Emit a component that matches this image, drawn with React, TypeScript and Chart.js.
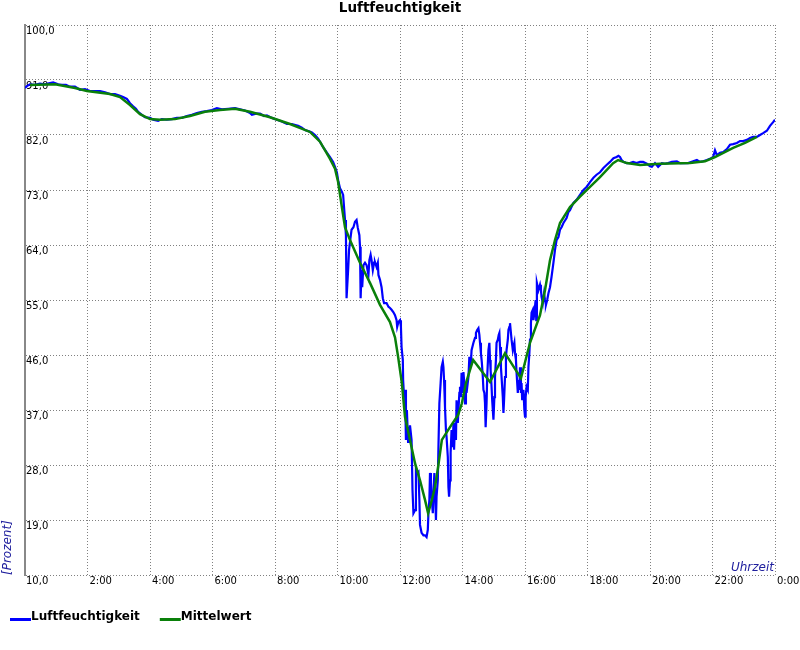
import React, { useEffect, useRef } from 'react';
import { Chart, registerables } from 'chart.js';

Chart.register(...registerables);

const TITLE = 'Luftfeuchtigkeit';
const SERIES_LABELS = ['Luftfeuchtigkeit', 'Mittelwert'];
const SERIES_COLORS = ['#0000ff', '#0a800a'];
const Y_AXIS_TITLE = '[Prozent]';
const X_AXIS_TITLE = 'Uhrzeit';
const yTickValues = [10, 19, 28, 37, 46, 55, 64, 73, 82, 91, 100];
const xTickHours = [0, 2, 4, 6, 8, 10, 12, 14, 16, 18, 20, 22, 24];

// [Uhrzeit in Stunden, Luftfeuchtigkeit in %]
const humidity: [number, number][] = [
  [0.00, 89.7], [0.06, 90.0], [0.16, 90.3], [0.32, 90.2], [0.48, 90.4], [0.64, 90.3], [0.80, 90.5], [0.90, 90.6], [1.06, 90.3], [1.18, 90.2],
  [1.31, 90.2], [1.44, 89.9], [1.60, 89.9], [1.76, 89.4], [1.92, 89.5], [2.08, 89.2], [2.24, 89.2], [2.40, 89.2], [2.56, 89.0], [2.72, 88.7],
  [2.88, 88.7], [3.04, 88.4], [3.14, 88.2], [3.26, 87.9], [3.36, 87.2], [3.46, 86.7], [3.55, 86.3], [3.62, 85.8], [3.74, 85.3], [3.84, 84.9],
  [4.00, 84.8], [4.10, 84.5], [4.26, 84.3], [4.38, 84.6], [4.54, 84.5], [4.70, 84.6], [4.86, 84.8], [5.02, 84.8], [5.18, 85.1], [5.34, 85.3],
  [5.50, 85.6], [5.66, 85.8], [5.82, 85.9], [5.98, 86.1], [6.14, 86.4], [6.30, 86.2], [6.50, 86.3], [6.72, 86.4], [6.88, 86.2], [7.04, 86.0],
  [7.20, 85.6], [7.26, 85.3], [7.39, 85.5], [7.52, 85.5], [7.65, 85.1], [7.74, 85.2], [7.90, 84.8], [8.06, 84.5], [8.22, 84.2], [8.38, 83.8],
  [8.54, 83.8], [8.74, 83.5], [8.86, 83.2], [8.96, 82.8], [9.09, 82.6], [9.18, 82.4], [9.28, 82.0], [9.38, 81.4], [9.44, 80.9], [9.54, 80.0],
  [9.66, 79.1], [9.76, 78.4], [9.86, 77.6], [9.92, 76.8], [9.98, 75.9], [10.02, 74.6], [10.08, 73.3], [10.14, 72.7], [10.18, 72.2],
  [10.24, 68.1], [10.27, 65.6], [10.29, 55.3], [10.34, 59.9], [10.37, 63.2], [10.40, 64.5], [10.45, 66.5], [10.51, 66.9], [10.56, 67.8], [10.61, 68.1],
  [10.65, 66.8], [10.70, 65.6], [10.72, 63.7], [10.74, 55.3], [10.77, 59.9], [10.79, 57.1], [10.83, 60.7], [10.88, 61.1], [10.93, 60.7], [10.99, 59.1],
  [11.02, 61.5], [11.06, 62.4], [11.09, 61.5], [11.13, 59.9], [11.17, 61.1], [11.20, 61.2], [11.25, 60.4], [11.29, 61.1], [11.31, 59.1], [11.36, 58.3],
  [11.41, 57.1], [11.45, 55.3], [11.49, 54.5], [11.57, 54.5], [11.63, 53.9], [11.68, 53.7], [11.73, 53.4], [11.79, 53.0], [11.84, 52.5], [11.89, 51.7],
  [11.91, 50.6], [11.95, 51.4], [12.00, 51.7], [12.03, 50.6], [12.05, 47.3], [12.09, 45.2], [12.10, 41.9], [12.13, 39.1], [12.16, 40.3], [12.19, 32.1],
  [12.22, 37.0], [12.26, 31.6], [12.29, 34.2], [12.30, 31.6], [12.32, 34.5], [12.37, 32.1], [12.40, 23.9], [12.43, 20.1], [12.48, 20.6], [12.51, 27.2],
  [12.55, 26.7], [12.59, 26.9], [12.62, 22.3], [12.64, 18.2], [12.69, 16.9], [12.75, 16.5], [12.80, 16.5], [12.85, 16.2], [12.89, 17.4], [12.91, 20.1],
  [12.94, 22.3], [12.96, 26.7], [12.99, 25.1], [13.01, 22.8], [13.05, 20.1], [13.07, 23.4], [13.10, 26.7], [13.12, 23.9], [13.15, 19.0], [13.17, 22.8],
  [13.21, 25.5], [13.23, 30.9], [13.26, 38.1], [13.30, 41.4], [13.33, 44.0], [13.37, 44.9], [13.39, 44.0], [13.41, 41.9], [13.44, 37.5], [13.47, 33.7],
  [13.49, 32.6], [13.53, 29.3], [13.55, 24.4], [13.57, 22.8], [13.60, 25.5], [13.62, 30.0], [13.65, 33.7], [13.69, 30.9], [13.71, 34.9], [13.73, 30.5],
  [13.76, 34.9], [13.79, 32.1], [13.81, 38.6], [13.85, 34.9], [13.87, 37.0], [13.90, 39.8], [13.92, 40.8], [13.95, 39.1], [13.97, 43.1], [14.01, 39.8],
  [14.03, 43.2], [14.05, 41.9], [14.08, 38.1], [14.11, 41.4], [14.13, 39.8], [14.19, 42.4], [14.22, 45.7], [14.26, 44.0], [14.29, 46.8], [14.35, 48.0],
  [14.40, 48.8], [14.43, 49.6], [14.47, 50.1], [14.51, 50.4], [14.54, 49.3], [14.56, 48.0], [14.59, 46.3], [14.62, 44.7], [14.65, 42.4], [14.67, 40.3],
  [14.70, 39.8], [14.72, 38.1], [14.74, 34.2], [14.77, 38.1], [14.79, 42.4], [14.83, 46.8], [14.86, 48.0], [14.88, 45.2], [14.90, 43.5], [14.93, 40.8],
  [14.95, 38.6], [14.99, 35.4], [15.02, 39.1], [15.04, 42.4], [15.07, 45.2], [15.09, 48.0], [15.13, 48.5], [15.16, 49.3], [15.18, 49.6], [15.20, 47.3],
  [15.23, 44.0], [15.25, 42.4], [15.29, 39.1], [15.31, 36.5], [15.33, 38.6], [15.36, 42.4], [15.39, 45.7], [15.41, 46.8], [15.45, 48.5], [15.47, 50.1],
  [15.50, 50.6], [15.52, 51.2], [15.55, 49.6], [15.57, 48.5], [15.61, 46.8], [15.63, 47.3], [15.66, 48.0], [15.68, 46.3], [15.71, 45.2], [15.73, 43.1],
  [15.77, 39.8], [15.79, 41.9], [15.82, 40.3], [15.84, 44.0], [15.87, 39.8], [15.89, 41.4], [15.91, 38.6], [15.95, 40.3], [15.98, 37.0], [16.00, 35.9],
  [16.02, 39.1], [16.05, 40.8], [16.09, 40.3], [16.11, 44.0], [16.14, 46.3], [16.16, 48.5], [16.19, 51.2], [16.21, 52.9], [16.25, 53.4], [16.27, 51.7],
  [16.30, 52.9], [16.34, 55.0], [16.36, 51.7], [16.38, 57.8], [16.43, 56.6], [16.48, 57.5], [16.51, 56.6], [16.53, 55.5], [16.57, 54.5], [16.61, 56.1],
  [16.64, 55.0], [16.67, 54.2], [16.71, 55.0], [16.75, 56.1], [16.80, 57.1], [16.85, 58.8], [16.91, 61.1], [16.96, 63.2], [17.01, 64.8], [17.07, 65.3],
  [17.12, 66.5], [17.17, 66.9], [17.23, 67.6], [17.33, 68.4], [17.39, 69.4], [17.44, 69.7], [17.55, 70.9], [17.65, 71.4], [17.76, 72.2], [17.87, 73.0],
  [17.97, 73.5], [18.08, 74.3], [18.19, 75.0], [18.29, 75.5], [18.40, 75.9], [18.51, 76.6], [18.61, 77.1], [18.72, 77.6], [18.83, 78.2], [18.93, 78.4],
  [18.99, 78.6], [19.04, 78.4], [19.09, 77.9], [19.15, 77.6], [19.25, 77.4], [19.36, 77.4], [19.46, 77.6], [19.57, 77.4], [19.68, 77.6], [19.78, 77.6],
  [19.90, 77.3], [20.00, 76.9], [20.06, 76.8], [20.16, 77.4], [20.26, 76.8], [20.38, 77.4], [20.48, 77.3], [20.58, 77.4], [20.70, 77.6], [20.86, 77.7],
  [20.96, 77.4], [21.06, 77.4], [21.22, 77.4], [21.38, 77.7], [21.50, 77.9], [21.60, 77.6], [21.70, 77.7], [21.82, 77.9], [21.92, 78.1], [22.02, 78.4],
  [22.08, 79.5], [22.14, 78.7], [22.24, 79.1], [22.34, 79.2], [22.46, 79.7], [22.56, 80.4], [22.66, 80.5], [22.78, 80.7], [22.88, 81.0], [22.98, 81.0],
  [23.10, 81.2], [23.20, 81.5], [23.30, 81.7], [23.42, 81.7], [23.52, 82.0], [23.62, 82.3], [23.74, 82.7], [23.84, 83.5], [23.94, 84.1], [24.00, 84.5],
];

// [Uhrzeit in Stunden, Mittelwert in %]
const meanValues: [number, number][] = [
  [0.16, 90.2], [0.96, 90.3], [1.60, 89.7], [1.98, 89.2], [2.72, 88.7], [3.04, 88.2], [3.36, 86.9], [3.68, 85.4], [4.00, 84.6], [4.32, 84.5],
  [4.80, 84.6], [5.28, 85.1], [5.76, 85.8], [6.24, 86.1], [6.72, 86.3], [7.20, 85.8], [7.84, 84.9], [8.48, 83.8], [9.12, 82.5], [9.44, 80.9],
  [9.76, 78.1], [9.92, 76.5], [10.02, 74.3], [10.14, 70.2], [10.24, 66.9], [10.40, 64.8], [10.72, 61.1], [11.04, 57.8], [11.36, 54.2], [11.68, 51.4],
  [11.84, 48.9], [11.94, 45.7], [12.06, 41.4], [12.16, 35.9], [12.32, 32.1], [12.48, 28.3], [12.64, 25.5], [12.80, 22.3], [12.90, 20.1], [13.02, 22.3],
  [13.12, 24.4], [13.22, 27.7], [13.34, 32.1], [13.60, 34.2], [13.86, 36.2], [13.98, 38.1], [14.11, 41.4], [14.34, 45.2], [14.88, 41.6], [15.36, 46.3],
  [15.87, 42.2], [16.16, 48.0], [16.48, 52.5], [16.64, 56.6], [16.80, 61.5], [16.96, 64.8], [17.12, 67.6], [17.44, 70.2], [17.76, 71.9], [18.08, 73.5],
  [18.40, 75.1], [18.82, 77.4], [18.98, 77.9], [19.26, 77.4], [19.68, 77.1], [20.32, 77.3], [21.28, 77.4], [21.76, 77.7], [22.08, 78.4], [22.66, 79.9],
  [23.04, 80.7], [23.42, 81.7],
];

const FONT = '"DejaVu Sans"';
const AXIS_TITLE_COLOR = '#20209e';

const decorations = {
  id: 'decorations',
  afterDraw(chart: any) {
    const { ctx, chartArea } = chart;
    ctx.save();
    ctx.fillStyle = AXIS_TITLE_COLOR;
    ctx.font = `italic 12px ${FONT}`;
    ctx.textAlign = 'right';
    ctx.textBaseline = 'alphabetic';
    ctx.fillText(X_AXIS_TITLE, chartArea.right - 1, chartArea.bottom - 4);
    ctx.translate(chartArea.left - 17, chartArea.bottom);
    ctx.rotate(-Math.PI / 2);
    ctx.textAlign = 'left';
    ctx.textBaseline = 'middle';
    ctx.fillText(Y_AXIS_TITLE, 0, 0);
    ctx.restore();

    ctx.save();
    ctx.font = `bold 12px ${FONT}`;
    ctx.textAlign = 'left';
    ctx.textBaseline = 'alphabetic';
    let x = 10;
    const base = 620;
    chart.data.datasets.forEach((ds: any) => {
      ctx.strokeStyle = ds.borderColor;
      ctx.lineWidth = 3;
      ctx.beginPath();
      ctx.moveTo(x, base - 0.5);
      ctx.lineTo(x + 21, base - 0.5);
      ctx.stroke();
      ctx.fillStyle = '#000';
      ctx.fillText(ds.label, x + 21, base);
      x += 21 + ctx.measureText(ds.label).width + 20;
    });
    ctx.restore();
  },
};

export default function App() {
  const canvasRef = useRef<HTMLCanvasElement | null>(null);

  useEffect(() => {
    if (!canvasRef.current) return;
    Chart.defaults.font.family = FONT;
    const chart = new Chart(canvasRef.current, {
      type: 'line',
      data: {
        datasets: [
          {
            label: SERIES_LABELS[0],
            data: humidity.map(([x, y]) => ({ x, y })),
            borderColor: SERIES_COLORS[0],
            backgroundColor: SERIES_COLORS[0],
            borderWidth: 2.2,
            pointRadius: 0,
            tension: 0,
            order: 1,
          },
          {
            label: SERIES_LABELS[1],
            data: meanValues.map(([x, y]) => ({ x, y })),
            borderColor: SERIES_COLORS[1],
            backgroundColor: SERIES_COLORS[1],
            borderWidth: 2.5,
            pointRadius: 0,
            tension: 0,
            order: 0,
          },
        ],
      },
      options: {
        animation: false,
        responsive: false,
        devicePixelRatio: 1,
        layout: { padding: { left: 25, right: 25, top: 0, bottom: 0 } },
        plugins: {
          legend: { display: false },
          tooltip: { enabled: false },
          title: {
            display: true,
            text: TITLE,
            color: '#000',
            font: { family: FONT, size: 13.5, weight: 'bold', lineHeight: 1.2 },
            padding: { top: 0, bottom: 8.8 },
          },
        },
        scales: {
          x: {
            type: 'linear',
            min: xTickHours[0],
            max: xTickHours[xTickHours.length - 1],
            afterBuildTicks: (scale: any) => {
              scale.ticks = xTickHours.map((value) => ({ value }));
            },
            afterFit: (scale: any) => {
              scale.height = 75;
              scale.paddingLeft = 0;
              scale.paddingRight = 0;
            },
            ticks: {
              autoSkip: false,
              maxRotation: 0,
              align: 'start',
              padding: 0,
              labelOffset: 2,
              color: '#000',
              font: { family: FONT, size: 10 },
              callback: (v: any) => (Number(v) === 0 ? '' : `${Number(v) % 24}:00`),
            },
            grid: { color: '#808080', lineWidth: 1, drawTicks: false },
            border: { display: false, dash: [1, 2] },
          },
          y: {
            type: 'linear',
            min: yTickValues[0],
            max: yTickValues[yTickValues.length - 1],
            afterBuildTicks: (scale: any) => {
              scale.ticks = yTickValues.map((value) => ({ value }));
            },
            afterFit: (scale: any) => {
              scale.width = 0;
              scale.paddingTop = 0;
              scale.paddingBottom = 0;
            },
            ticks: {
              autoSkip: false,
              mirror: true,
              padding: 1,
              labelOffset: 6,
              color: '#000',
              font: { family: FONT, size: 10 },
              callback: (v: any) => Number(v).toFixed(1).replace('.', ','),
            },
            grid: { color: '#808080', lineWidth: 1, drawTicks: false },
            border: { display: true, color: '#888888', width: 2, dash: [1, 2] },
          },
        },
      } as any,
      plugins: [decorations],
    });
    return () => chart.destroy();
  }, []);

  return (
    <div style={{ position: 'fixed', left: 0, top: 0, width: 800, height: 650, background: '#fff' }}>
      <canvas ref={canvasRef} width={800} height={650} style={{ width: 800, height: 650, display: 'block' }} />
    </div>
  );
}
